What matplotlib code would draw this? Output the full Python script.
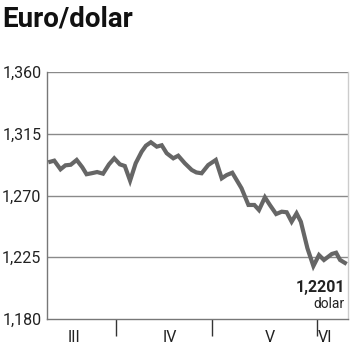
import matplotlib
matplotlib.use("Agg")
import matplotlib.pyplot as plt
from matplotlib.transforms import blended_transform_factory

# --- data (x = days from 1 April) ---
days = [-20.5, -18.7, -16.8, -15.3, -13.7, -11.9, -10.2, -8.9, -7.4, -5.7,
        -3.9, -2.1, -0.5, 1.2, 2.7, 4.3, 6.0, 7.8, 9.1, 10.6,
        12.4, 13.9, 15.4, 17.4, 18.9, 20.9, 23.0, 24.4, 26.0, 28.0,
        30.3, 32.1, 33.6, 35.3, 38.1, 40.2, 42.0, 43.4, 45.2, 46.7,
        48.6, 50.3, 51.8, 53.3, 54.8, 56.1, 58.1, 59.9, 61.6, 63.1,
        65.5, 66.8, 68.0, 70.0]
rate = [1.2942, 1.2954, 1.2891, 1.2920, 1.2924, 1.2959, 1.2906, 1.2855, 1.2862, 1.2871,
        1.2859, 1.2927, 1.2971, 1.2927, 1.2915, 1.2808, 1.2935, 1.3019, 1.3063, 1.3088,
        1.3056, 1.3066, 1.3008, 1.2971, 1.2990, 1.2935, 1.2886, 1.2868, 1.2862, 1.2922,
        1.2959, 1.2825, 1.2849, 1.2866, 1.2753, 1.2631, 1.2631, 1.2594, 1.2687, 1.2631,
        1.2565, 1.2582, 1.2578, 1.2509, 1.2570, 1.2509, 1.2315, 1.2186, 1.2266, 1.2230,
        1.2274, 1.2283, 1.2230, 1.2201]

y_ticks = [1.180, 1.225, 1.270, 1.315, 1.360]
y_labels = ["1,180", "1,225", "1,270", "1,315", "1,360"]
month_bounds = [0, 29.1, 61]
month_names = ["III", "IV", "V", "VI"]
month_label_pos = [-12.7, 16.4, 46.7, 63.4]
last_label = "1,2201"
unit_label = "dolar"
title = "Euro/dolar"

FONT = ["Roboto", "DejaVu Sans"]
plt.rcParams["font.family"] = FONT

fig = plt.figure(figsize=(3.5, 3.51), dpi=100)
ax = fig.add_axes([47 / 350, 32 / 351, 301 / 350, 247 / 351])

ax.plot(days, rate, color="#666666", lw=3.0, solid_joinstyle="miter",
        solid_capstyle="butt", zorder=3)

ax.set_xlim(-20.9, 70.4)
ax.set_ylim(1.180, 1.360)

# horizontal grid
for v in y_ticks[1:]:
    ax.axhline(v, color="#8a8a8a", lw=1.0, zorder=1)

ax.set_yticks(y_ticks)
ax.set_yticklabels(y_labels, fontsize=11.5, color="#222222")
ax.tick_params(axis="y", length=0, pad=4)

ax.set_xticks(month_bounds)
ax.set_xticklabels([])
ax.tick_params(axis="x", length=12, width=1, color="#333333", direction="out")

for side in ["left", "bottom"]:
    ax.spines[side].set_color("#777777")
    ax.spines[side].set_linewidth(1.0)
ax.spines["top"].set_visible(False)
ax.spines["right"].set_color("#cccccc")
ax.spines["right"].set_linewidth(1.0)

trans = blended_transform_factory(ax.transData, ax.transAxes)
for name, pos in zip(month_names, month_label_pos):
    ax.text(pos, -0.075, name, transform=trans, ha="center", va="center",
            fontsize=11.5, color="#222222")

ax.text(0.99, 0.108, last_label, transform=ax.transAxes, ha="right",
        va="baseline", fontsize=11.5, fontweight="bold", color="#222222")
ax.text(0.99, 0.045, unit_label, transform=ax.transAxes, ha="right",
        va="baseline", fontsize=10, color="#222222")

fig.text(2 / 350, 1 - 5 / 351, title, ha="left", va="top", fontsize=20,
         fontweight="bold", color="#111111")

fig.savefig("out.png", dpi=100)
